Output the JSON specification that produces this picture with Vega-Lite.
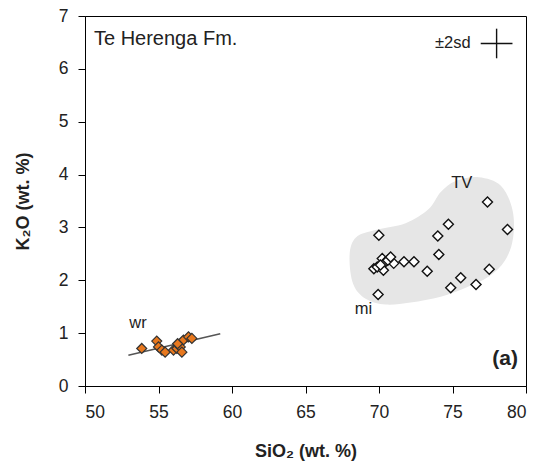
{
  "$schema": "https://vega.github.io/schema/vega-lite/v6.json",
  "width": 441,
  "height": 370,
  "autosize": {"type": "none"},
  "padding": {"left": 85, "top": 16, "right": 13, "bottom": 76},
  "background": "white",
  "config": {
    "font": "Liberation Sans",
    "view": {"stroke": "#000", "strokeWidth": 1},
    "axis": {"grid": false, "domainColor": "#000", "tickColor": "#000", "labelColor": "#222", "titleColor": "#222", "labelFont": "Liberation Sans", "titleFont": "Liberation Sans", "labelFontSize": 17.5, "titleFontSize": 18, "titleFontWeight": "bold", "tickSize": 7, "domainWidth": 1, "tickWidth": 1}
  },
  "datasets": {
    "blob": [
      {"i": 1, "x": 68.0, "y": 2.48}, {"i": 2, "x": 68.43, "y": 2.81}, {"i": 3, "x": 69.77, "y": 2.95},
      {"i": 4, "x": 71.81, "y": 3.08}, {"i": 5, "x": 73.38, "y": 3.35}, {"i": 6, "x": 74.2, "y": 3.67},
      {"i": 7, "x": 75.22, "y": 3.88}, {"i": 8, "x": 76.79, "y": 3.95}, {"i": 9, "x": 78.29, "y": 3.79},
      {"i": 10, "x": 79.08, "y": 3.33}, {"i": 11, "x": 79.12, "y": 2.8}, {"i": 12, "x": 78.58, "y": 2.38},
      {"i": 13, "x": 77.47, "y": 2.07}, {"i": 14, "x": 75.9, "y": 1.86}, {"i": 15, "x": 74.2, "y": 1.69},
      {"i": 16, "x": 72.15, "y": 1.58}, {"i": 17, "x": 70.45, "y": 1.54}, {"i": 18, "x": 69.09, "y": 1.65},
      {"i": 19, "x": 68.23, "y": 1.94}
    ],
    "reg": [{"x": 52.95, "y": 0.58}, {"x": 59.2, "y": 0.99}],
    "wr": [
      {"x": 53.86, "y": 0.71}, {"x": 54.88, "y": 0.85}, {"x": 55.0, "y": 0.74}, {"x": 55.23, "y": 0.68},
      {"x": 55.45, "y": 0.64}, {"x": 56.02, "y": 0.68}, {"x": 56.25, "y": 0.71}, {"x": 56.48, "y": 0.74},
      {"x": 56.59, "y": 0.64}, {"x": 56.7, "y": 0.87}, {"x": 57.04, "y": 0.93}, {"x": 57.27, "y": 0.9},
      {"x": 56.3, "y": 0.8}
    ],
    "tv": [
      {"x": 77.38, "y": 3.48}, {"x": 78.74, "y": 2.96}, {"x": 69.99, "y": 2.85}, {"x": 74.72, "y": 3.06},
      {"x": 74.0, "y": 2.84}, {"x": 74.07, "y": 2.49}, {"x": 73.28, "y": 2.17}, {"x": 72.38, "y": 2.35},
      {"x": 71.7, "y": 2.35}, {"x": 71.0, "y": 2.32}, {"x": 69.65, "y": 2.22}, {"x": 69.88, "y": 2.25},
      {"x": 70.22, "y": 2.41}, {"x": 70.3, "y": 2.19}, {"x": 70.45, "y": 2.35}, {"x": 70.6, "y": 2.38},
      {"x": 70.79, "y": 2.44}, {"x": 70.1, "y": 2.29}, {"x": 69.94, "y": 1.73}, {"x": 74.88, "y": 1.86},
      {"x": 75.56, "y": 2.05}, {"x": 76.6, "y": 1.92}, {"x": 77.5, "y": 2.21}
    ],
    "err": [
      {"x": 76.92, "x2": 79.08, "y": 6.48, "y2": 6.48},
      {"x": 78.0, "x2": 78.0, "y": 6.2, "y2": 6.76}
    ],
    "lbl": [
      {"x": 75.63, "y": 3.84, "t": "TV"},
      {"x": 68.95, "y": 1.45, "t": "mi"},
      {"x": 53.61, "y": 1.19, "t": "wr"},
      {"x": 75.02, "y": 6.49, "t": "±2sd"}
    ],
    "title": [{"x": 50.61, "y": 6.45, "t": "Te Herenga Fm."}],
    "panel": [{"x": 79.45, "y": 0.52, "t": "(a)"}]
  },
  "encoding": {
    "x": {"field": "x", "type": "quantitative", "scale": {"domain": [50, 80], "nice": false, "zero": false}, "axis": {"values": [50, 55, 60, 65, 70, 75, 80], "title": "SiO₂ (wt. %)", "labelPadding": 10, "titlePadding": 22}},
    "y": {"field": "y", "type": "quantitative", "scale": {"domain": [0, 7], "nice": false}, "axis": {"values": [0, 1, 2, 3, 4, 5, 6, 7], "title": "K₂O (wt. %)", "labelPadding": 10, "titlePadding": 26}}
  },
  "layer": [
    {"data": {"name": "blob"}, "mark": {"type": "line", "interpolate": "cardinal-closed", "fill": "#e6e6e6", "stroke": "#e6e6e6", "strokeWidth": 0}, "encoding": {"order": {"field": "i", "type": "quantitative"}}},
    {"data": {"name": "reg"}, "mark": {"type": "line", "color": "#555", "strokeWidth": 1.6}, "encoding": {}},
    {"data": {"name": "wr"}, "mark": {"type": "point", "shape": "diamond", "filled": true, "fill": "#E8781E", "stroke": "#333", "strokeWidth": 1.2, "size": 100, "opacity": 1}, "encoding": {}},
    {"data": {"name": "tv"}, "mark": {"type": "point", "shape": "diamond", "filled": true, "fill": "#fff", "stroke": "#111", "strokeWidth": 1.4, "size": 100, "opacity": 1}, "encoding": {}},
    {"data": {"name": "err"}, "mark": {"type": "rule", "color": "#111", "strokeWidth": 1.4}, "encoding": {"x2": {"field": "x2"}, "y2": {"field": "y2"}}},
    {"data": {"name": "lbl"}, "mark": {"type": "text", "fontSize": 16.5, "color": "#222", "align": "center", "baseline": "middle"}, "encoding": {"text": {"field": "t"}}},
    {"data": {"name": "title"}, "mark": {"type": "text", "fontSize": 20, "color": "#222", "align": "left", "baseline": "alphabetic"}, "encoding": {"text": {"field": "t"}}},
    {"data": {"name": "panel"}, "mark": {"type": "text", "fontSize": 21, "fontWeight": "bold", "color": "#222", "align": "right", "baseline": "middle"}, "encoding": {"text": {"field": "t"}}}
  ]
}
